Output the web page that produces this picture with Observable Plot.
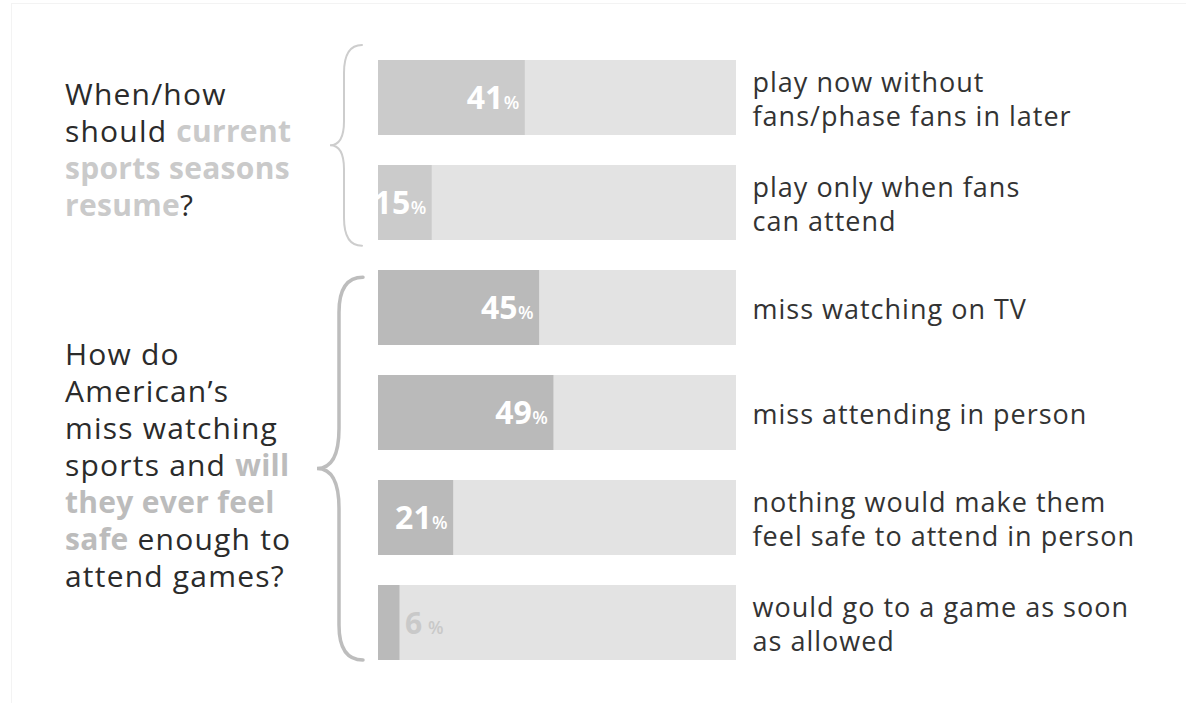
<!DOCTYPE html>
<html>
<head>
<meta charset="utf-8">
<script src="https://cdn.jsdelivr.net/npm/d3@7"></script>
<script src="https://cdn.jsdelivr.net/npm/@observablehq/plot@0.6"></script>
<style>
  html, body { margin: 0; padding: 0; background: #fff; }
  #chart { position: relative; width: 1186px; height: 703px; overflow: hidden; }
  #frame { position: absolute; left: 11px; top: 3px; width: 1180px; height: 700px;
           border-left: 1px solid #f3f3f3; border-top: 1px solid #f3f3f3; pointer-events: none; }
  #chart svg { position: absolute; left: 0; top: 0; }
</style>
</head>
<body>
<div id="chart"><div id="frame"></div></div>
<script>
// ---- data ----
const groups = ["resume", "attend"];
const categories = [
  "play now without\nfans/phase fans in later",
  "play only when fans\ncan attend",
  "miss watching on TV",
  "miss attending in person",
  "nothing would make them\nfeel safe to attend in person",
  "would go to a game as soon\nas allowed"
];
const categoryGroup = ["resume", "resume", "attend", "attend", "attend", "attend"];
const values = [41, 15, 45, 49, 21, 6];
// question text per group: lines of [text, highlighted]
const questionResume = [
  [["When/how", false]],
  [["should ", false], ["current", true]],
  [["sports seasons", true]],
  [["resume", true], ["?", false]]
];
const questionAttend = [
  [["How do", false]],
  [["American\u2019s", false]],
  [["miss watching", false]],
  [["sports and ", false], ["will", true]],
  [["they ever feel", true]],
  [["safe", true], [" enough to", false]],
  [["attend games?", false]]
];

// ---- styles ----
const barFill = {resume: "#cbcbcb", attend: "#bababa"};
const accent = {resume: "#cacaca", attend: "#bcbcbc"};
const trackFill = "#e3e3e3";
const font = "'Open Sans', sans-serif";

const data = categories.map((c, i) => ({
  category: c, group: categoryGroup[i], value: values[i], inside: values[i] >= 10
}));
const inside = data.filter(d => d.inside);
const outside = data.filter(d => !d.inside);

const chart = Plot.plot({
  width: 1186,
  height: 703,
  marginLeft: 378,
  marginRight: 450,
  marginTop: 60,
  marginBottom: 43,
  x: {domain: [0, 100], axis: null},
  y: {domain: categories, axis: null, paddingInner: 0.29, paddingOuter: 0},
  color: {type: "identity"},
  style: {fontFamily: font, background: "transparent", overflow: "visible"},
  marks: [
    Plot.barX(data, {y: "category", x1: 0, x2: 100, fill: trackFill}),
    Plot.barX(data, {y: "category", x1: 0, x2: "value", fill: d => barFill[d.group]}),
    Plot.text(inside, {y: "category", x: "value", text: d => String(d.value), textAnchor: "end",
      dx: -22, dy: 11, lineAnchor: "bottom", fill: "white", fontWeight: 700, fontSize: 32}),
    Plot.text(inside, {y: "category", x: "value", text: () => "%", textAnchor: "end",
      dx: -6, dy: 11, lineAnchor: "bottom", fill: "white", fontWeight: 600, fontSize: 18}),
    Plot.text(outside, {y: "category", x: "value", text: d => String(d.value), textAnchor: "start",
      dx: 5, dy: 11, lineAnchor: "bottom", fill: "#c9c9c9", fontWeight: 700, fontSize: 30}),
    Plot.text(outside, {y: "category", x: "value", text: () => "%", textAnchor: "start",
      dx: 28, dy: 11, lineAnchor: "bottom", fill: "#c9c9c9", fontWeight: 600, fontSize: 18}),
    Plot.text(data, {y: "category", x: 100, text: "category", textAnchor: "start", dx: 16,
      lineAnchor: "middle", lineHeight: 1.25, fontSize: 27, fill: "#333"})
  ]
});
document.getElementById("chart").appendChild(chart);

const svg = d3.select(chart);
// widen the right-hand labels a little (Gotham-like spacing)
svg.selectAll('g[font-size="27"]').style("letter-spacing", "1px");

// rebuild the band scale Plot used, to place braces and questions
const ys = chart.scale("y");
const xs = chart.scale("x");
const yb = d3.scaleBand().domain(ys.domain).range(ys.range)
  .paddingInner(ys.paddingInner).paddingOuter(ys.paddingOuter).align(ys.align ?? 0.5);
const bw = yb.bandwidth();
const x0 = xs.range[0];

const braceStyle = {
  resume: {padTop: -15, padBottom: 6, tip: -16, stem: -34, point: -48, r: 28, r2: 24, color: "#cdcdcd", width: 2},
  attend: {padTop: 7, padBottom: 0, tip: -15, stem: -39, point: -61, r: 35, r2: 40, color: "#bdbdbd", width: 3.5}
};
const questions = {resume: questionResume, attend: questionAttend};

for (const g of groups) {
  const cats = categories.filter((c, i) => categoryGroup[i] === g);
  const gTop = yb(cats[0]);
  const gBottom = yb(cats[cats.length - 1]) + bw;
  const s = braceStyle[g];
  const top = gTop + s.padTop, bottom = gBottom + s.padBottom, mid = (top + bottom) / 2;
  const tip = x0 + s.tip, stem = x0 + s.stem, point = x0 + s.point;
  const p = d3.path();
  p.moveTo(tip, top);
  p.quadraticCurveTo(stem, top, stem, top + s.r);
  p.lineTo(stem, mid - s.r2);
  p.quadraticCurveTo(stem, mid, point, mid);
  p.quadraticCurveTo(stem, mid, stem, mid + s.r2);
  p.lineTo(stem, bottom - s.r);
  p.quadraticCurveTo(stem, bottom, tip, bottom);
  svg.append("path").attr("d", p.toString()).attr("fill", "none")
    .attr("stroke", s.color).attr("stroke-width", s.width).attr("stroke-linecap", "round");

  // question text
  const lines = questions[g];
  const lh = 37, cap = 21.5;
  const center = (gTop + gBottom) / 2;
  const first = center - (lines.length - 1) * lh / 2 + cap / 2;
  lines.forEach((segs, i) => {
    const t = svg.append("text").attr("x", 65).attr("y", first + i * lh)
      .attr("text-anchor", "start")
      .attr("font-family", font).attr("font-size", 30);
    for (const [txt, hi] of segs) {
      t.append("tspan").text(txt)
        .attr("fill", hi ? accent[g] : "#2b2b2b")
        .attr("font-weight", hi ? 700 : 400)
        .style("letter-spacing", hi ? "0.3px" : "1.2px")
        .style("white-space", "pre");
    }
  });
}
</script>
</body>
</html>
